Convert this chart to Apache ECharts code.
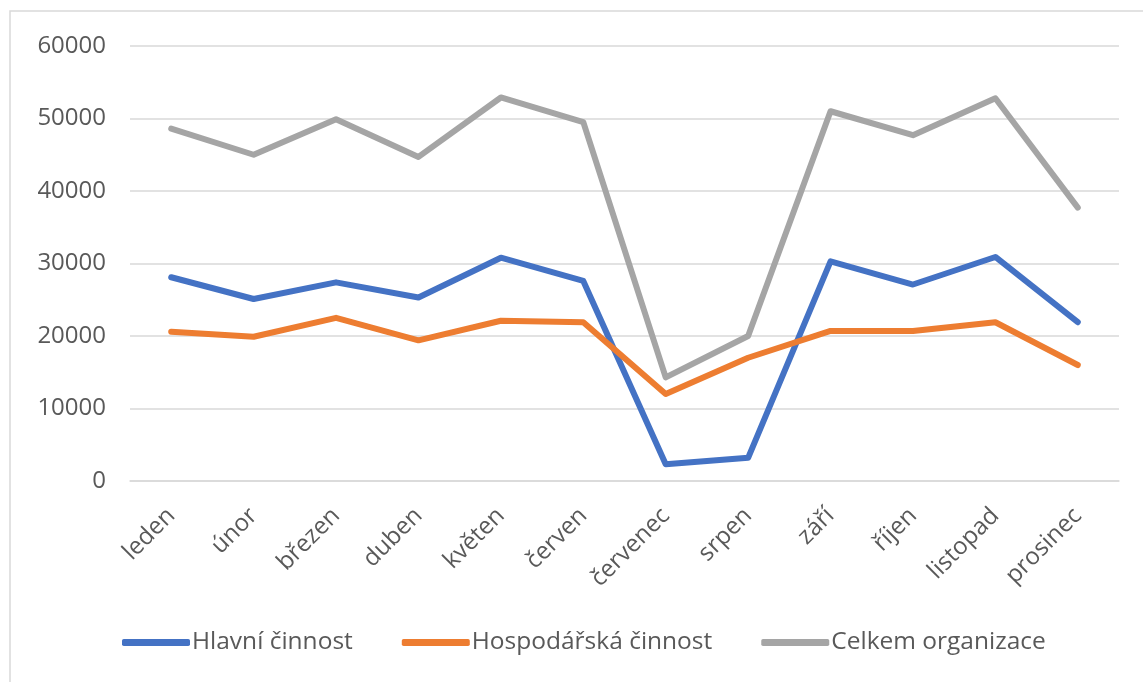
<!DOCTYPE html>
<html>
<head>
<meta charset="utf-8">
<script src="https://cdn.jsdelivr.net/npm/echarts@6/dist/echarts.min.js"></script>
<style>
html,body{margin:0;padding:0;background:#fff;}
#chart{width:1143px;height:682px;}
</style>
</head>
<body>
<div id="chart"></div>
<script>
var categories = ['leden','únor','březen','duben','květen','červen','červenec','srpen','září','říjen','listopad','prosinec'];
var hlavni = [28100, 25100, 27400, 25300, 30800, 27600, 2300, 3200, 30300, 27100, 30900, 21900];
var hospodarska = [20600, 19900, 22500, 19400, 22100, 21900, 12000, 17000, 20700, 20700, 21900, 16000];
var celkem = [48600, 45000, 49900, 44700, 52900, 49500, 14300, 20000, 51000, 47700, 52800, 37700];
var yTicks = {min: 0, max: 60000, interval: 10000};

var font = '"Open Sans", "Noto Sans", sans-serif';
var chart = echarts.init(document.getElementById('chart'), null, {renderer: 'canvas'});
function line(name, data, color) {
  return {
    name: name, type: 'line', data: data, symbol: 'none',
    lineStyle: {color: color, width: 6, cap: 'round', join: 'round'},
    itemStyle: {color: color},
    animation: false
  };
}
chart.setOption({
  animation: false,
  backgroundColor: '#fff',
  graphic: [{
    type: 'rect', shape: {x: 10, y: 11, width: 1200, height: 700},
    style: {fill: 'none', stroke: '#d9d9d9', lineWidth: 1.5}, silent: true
  }],
  grid: {left: 130, right: 24, top: 46, bottom: 201},
  xAxis: {
    type: 'category', data: categories, boundaryGap: true,
    axisLine: {show: true, lineStyle: {color: '#d9d9d9', width: 1.5}},
    axisTick: {show: false},
    axisLabel: {rotate: 45, margin: 31, color: '#595959', fontSize: 24, fontFamily: font, interval: 0}
  },
  yAxis: {
    type: 'value', min: yTicks.min, max: yTicks.max, interval: yTicks.interval,
    axisLine: {show: false}, axisTick: {show: false},
    splitLine: {lineStyle: {color: '#d9d9d9', width: 1.5}},
    axisLabel: {margin: 24, color: '#595959', fontSize: 24, fontFamily: font,
      formatter: function (v) { return String(v); }}
  },
  legend: {
    left: 117, top: 625, itemGap: 49, itemWidth: 68, itemHeight: 7,
    icon: 'roundRect',
    textStyle: {color: '#595959', fontSize: 24.5, fontFamily: font, padding: [0,0,0,-3]},
    data: ['Hlavní činnost', 'Hospodářská činnost', 'Celkem organizace']
  },
  series: [
    line('Hlavní činnost', hlavni, '#4472C4'),
    line('Hospodářská činnost', hospodarska, '#ED7D31'),
    line('Celkem organizace', celkem, '#A5A5A5')
  ]
});
</script>
</body>
</html>
